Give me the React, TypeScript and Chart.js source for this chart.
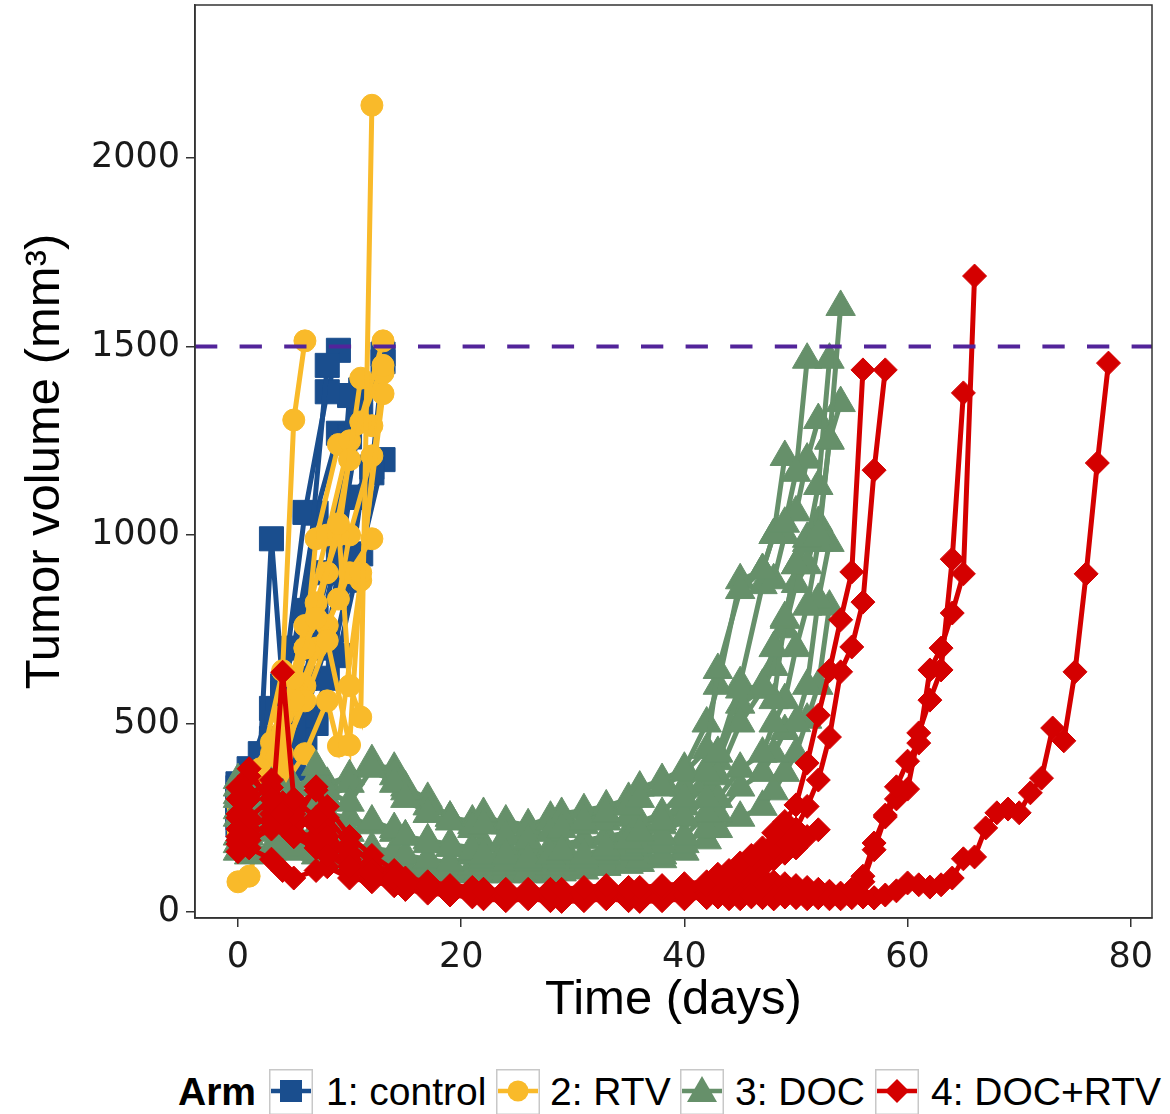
import React, { useEffect, useRef } from "react";
import { Chart, registerables } from "chart.js";

Chart.register(...registerables);

// ---------- data ----------
const ARM_LABELS = ["1: control", "2: RTV", "3: DOC", "4: DOC+RTV"];
const X_TICKS = [0, 20, 40, 60, 80];
const Y_TICKS = [0, 500, 1000, 1500, 2000];
const THRESHOLD = 1500;

// measurement days for the control and RTV arms (null = no measurement that day)
const EARLY_DAYS = [0, 1, 2, 3, 4, 5, 6, 7, 8, 9, 10, 11, 12, 13];

const CONTROL_MICE: (number | null)[][] = [
  [300, null, 420, 990, 600, null, 800, null, 1450],
  [250, 330, null, 420, 580, null, 1060, null, 1380, 1490],
  [330, 300, null, 460, null, 600, null, 780, null, 995, 1370],
  [290, null, 360, null, 450, null, 620, null, 900, null, 1260, 1385],
  [310, 280, null, 350, null, 480, null, 700, null, 960, null, 1320, null, 1480],
  [260, null, 330, null, 400, null, 520, null, 720, null, 1100, null, 1165],
  [340, 380, null, 540, null, 700, null, 1058, null, 1270],
  [280, null, 300, null, 380, null, 460, null, 620, null, 880, 1100, 1180, 1460],
  [230, 250, null, 300, null, 380, null, 500, null, 680, null, 950, null, 1200],
];

const RTV_MICE: (number | null)[][] = [
  [240, null, 380, null, 640, 1305, 1515],
  [200, 250, null, 400, null, 620, null, 780, null, 1030, 600, 517, 2140],
  [80, 95, null, 320, null, 560, null, 820, null, 1000, null, 1416],
  [260, null, 300, null, 480, null, 700, null, 900, null, 1200, null, null, 1515],
  [300, null, 350, null, 520, null, 760, null, 1000, null, 1250, 1300, null, 1450],
  [220, null, 280, null, 420, null, 560, null, 720, null, 443, 900, null, 1375],
  [280, null, null, 420, null, 550, null, 700, null, 830, 1000, null, 1210],
  [250, null, 320, null, 380, null, 600, null, 760, null, 900, null, 990],
  [180, null, 260, null, 330, null, 420, null, 560, 440, null, 880, null, 1430],
  [320, null, null, 450, null, null, 700, 990, null, 1240, null, null, 1290],
];

// measurement days for the DOC arm
const DOC_DAYS = [
  0, 1, 3, 4, 5, 7, 8, 10, 12, 14, 15, 17, 19, 21, 22, 24, 26, 28, 29, 31, 33, 35, 36,
  38, 40, 42, 43, 45, 47, 48, 49, 50, 51, 52, 53, 54,
];

const DOC_MICE: number[][] = [
  [310, 280, 260, 240, 220, 250, 230, 210, 240, 220, 200, 180, 170, 160, 150, 150, 140, 150, 160, 150, 170, 190, 210,
    240, 300, 370, 420, 590, 600, 700, 780, 920, 990, 1000, 1250, 1605],
  [350, 330, 310, 280, 300, 385, 320, 290, 380, 340, 300, 260, 240, 220, 230, 200, 190, 210, 220, 240, 260, 280, 300,
    330, 370, 430, 642, 854, 907, 1000, 1030, 1165, 1465],
  [250, 230, 210, 240, 260, 220, 200, 180, 170, 160, 150, 140, 130, 150, 140, 130, 130, 140, 150, 140, 160, 170, 180,
    200, 250, 300, 360, 500, 590, 562, 775, 920, 979, 1130, 1465],
  [180, 200, 220, 190, 170, 160, 180, 150, 140, 130, 120, 120, 110, 120, 130, 120, 110, 120, 130, 140, 150, 160, 170,
    180, 200, 260, 300, 380, 420, 500, 562, 700, 810, 979, 1252, 1350],
  [300, 320, 290, 300, 270, 280, 300, 340, 400, 360, 320, 280, 250, 230, 260, 230, 220, 240, 250, 230, 240, 250, 240,
    260, 330, 380, 422, 607, 867, 880, 1000, 1060, 1200, 1305],
  [330, 300, 340, 310, 330, 360, 340, 360, 390, 380, 330, 300, 250, 240, 230, 240, 230, 250, 260, 270, 280, 300, 330,
    350, 380, 500, 600, 880, 907, 1000, 1207],
  [200, 180, 160, 170, 190, 200, 170, 140, 120, 110, 120, 110, 100, 110, 100, 105, 110, 100, 110, 120, 120, 130, 140,
    150, 180, 220, 260, 330, 369, 420, 480, 501, 600, 828, 979],
  [270, 260, 240, 260, 280, 270, 260, 250, 230, 210, 200, 190, 180, 170, 180, 170, 160, 170, 180, 190, 200, 210, 220,
    230, 280, 340, 400, 550, 590, 650, 750, 870, 920, 1032],
  [160, 150, 170, 180, 160, 150, 140, 130, 120, 130, 110, 100, 110, 100, 105, 100, 100, 110, 105, 110, 120, 125, 130,
    140, 160, 190, 220, 250, 279, 320, 369, 420, 510, 600, 810],
];

// measurement days for the DOC+RTV arm
const COMBO_DAYS = [
  0, 1, 3, 4, 5, 7, 8, 10, 12, 14, 15, 17, 19, 21, 22, 24, 26, 28, 29, 31, 33, 35, 36, 38, 40, 42,
  43, 44, 45, 46, 47, 48, 49, 50, 51, 52, 53, 54, 55, 56, 57, 58, 59, 60, 61, 62, 63, 64, 65, 66,
  67, 68, 69, 70, 71, 72, 73, 74, 75, 76, 77, 78,
];

const COMBO_MICE: number[][] = [
  [220, 250, 300, 260, 200, 180, 150,
    120, 100, 90, 80, 70, 65, 60, 55, 60, 50, 55, 60, 65, 70, 60, 65, 70, 75, 80,
    100, 110, 130, 150, 170, 210, 240, 284, 395, 522, 640, 775, 902, 1438],
  [180, 200, 240, 636, 300, 250, 200,
    150, 110, 90, 70, 60, 50, 45, 50, 40, 45, 50, 40, 45, 50, 55, 50, 60, 65, 70,
    80, 90, 110, 130, 150, 170, 190, 220, 280, 350, 464, 637, 703, 822, 1172, 1438],
  [300, 380, 280, 240, 260, 230, 200,
    130, 100, 80, 70, 60, 55, 50, 45, 40, 45, 40, 35, 40, 45, 40, 35, 40, 45, 40,
    40, 35, 40, 45, 40, 35, 40, 45, 40, 38, 35, 40, 60, 95, 183, 257, 332, 400, 448, 642, 700, 793, 897, 1687],
  [250, 300, 330, 280, 230, 250, 220,
    140, 110, 90, 75, 65, 60, 55, 50, 50, 45, 50, 45, 50, 55, 50, 45, 50, 55, 50,
    50, 45, 50, 55, 50, 45, 50, 40, 45, 42, 40, 45, 55, 80, 165, 252, 300, 326, 475, 562, 642, 936, 1377],
  [200, 220, 260, 230, 210, 200, 180,
    110, 90, 70, 60, 55, 50, 45, 40, 45, 40, 40, 35, 40, 38, 35, 40, 42, 40, 38,
    40, 38, 35, 40, 38, 35, 40, 38, 35, 38, 40, 35, 38, 40, 37, 45, 56, 77, 72, 66, 72, 90, 141, 146,
    223, 263, 273, 263, 316, 355, 488, 454, 637, 897, 1191, 1456],
  [260, 310, 350, 290, 270, 323, 250,
    180, 130, 100, 80, 70, 60, 55, 60, 50, 55, 60, 55, 50, 60, 65, 60, 55, 60, 70,
    80, 90, 110, 130, 150, 160, 170, 190, 200, 218],
  [160, 190, 220, 250, 200, 170, 160,
    110, 90, 80, 70, 60, 50, 45, 40, 35, 40, 35, 30, 35, 40, 35, 30, 35, 40, 45,
    50, 60, 80, 100, 120, 140, 156, 170],
  [330, 360, 300, 270, 240, 332, 280,
    200, 150, 110, 90, 80, 70, 65, 60, 55, 60, 55, 50, 55, 60, 55, 50, 55, 60, 65,
    70, 75, 80, 85, 90, 80, 75, 70, 65, 60, 55, 50, 45, 40, 38],
  [190, 170, 140, 110, 90, 110, 120,
    90, 80, 70, 60, 50, 45, 40, 35, 30, 35, 30, 28, 30, 35, 30, 28, 30, 35, 40,
    45, 50, 55, 60, 65, 70],
];

// ---------- styles ----------
const ARM_STYLES = [
  { color: "#1A4E8E", pointStyle: "rect", radius: 17, order: 3 },
  { color: "#F9BA2A", pointStyle: "circle", radius: 11, order: 2 },
  { color: "#66906A", pointStyle: "triangle", radius: 17, order: 1 },
  { color: "#D40000", pointStyle: "rectRot", radius: 12, order: 0 },
];

function toPoints(days: number[], vols: (number | null)[]) {
  const pts: { x: number; y: number }[] = [];
  vols.forEach((v, i) => {
    if (v !== null && v !== undefined) pts.push({ x: days[i], y: v });
  });
  return pts;
}

function buildDatasets() {
  const groups: [number[], (number | null)[][]][] = [
    [EARLY_DAYS, CONTROL_MICE],
    [EARLY_DAYS, RTV_MICE],
    [DOC_DAYS, DOC_MICE],
    [COMBO_DAYS, COMBO_MICE],
  ];
  const ds: any[] = [];
  groups.forEach(([days, mice], armIdx) => {
    const st = ARM_STYLES[armIdx];
    mice.forEach((vols) => {
      ds.push({
        label: ARM_LABELS[armIdx],
        data: toPoints(days, vols),
        showLine: true,
        borderColor: st.color,
        backgroundColor: st.color,
        borderWidth: 5,
        pointStyle: st.pointStyle,
        pointRadius: st.radius,
        pointBorderWidth: 1,
        pointBorderColor: st.color,
        pointBackgroundColor: st.color,
        tension: 0,
        order: st.order,
      });
    });
  });
  return ds;
}

const overlayPlugin = {
  id: "overlay",
  afterDatasetsDraw(chart: any) {
    const { ctx, chartArea: a, scales } = chart;
    const y = scales.y.getPixelForValue(THRESHOLD);
    ctx.save();
    ctx.beginPath();
    ctx.rect(a.left, a.top, a.right - a.left, a.bottom - a.top);
    ctx.clip();
    ctx.setLineDash([22.3, 22.3]);
    ctx.strokeStyle = "#52249A";
    ctx.lineWidth = 4;
    ctx.beginPath();
    ctx.moveTo(a.left, y);
    ctx.lineTo(a.right, y);
    ctx.stroke();
    ctx.restore();
    ctx.save();
    ctx.strokeStyle = "#333333";
    ctx.lineWidth = 1.5;
    ctx.strokeRect(a.left, a.top, a.right - a.left, a.bottom - a.top);
    ctx.restore();
  },
};

function LegendKey({ idx }: { idx: number }) {
  const c = ARM_STYLES[idx].color;
  let marker: any = null;
  if (idx === 0) marker = <rect x={11} y={11} width={22} height={22} fill={c} />;
  if (idx === 1) marker = <circle cx={22} cy={22} r={10.5} fill={c} />;
  if (idx === 2) marker = <polygon points="22,7 37,33 7,33" fill={c} />;
  if (idx === 3) marker = <polygon points="22,10 34,22 22,34 10,22" fill={c} />;
  return (
    <svg width={44} height={46} style={{ display: "block" }}>
      <rect x={0.75} y={0.75} width={42.5} height={44.5} fill="#fff" stroke="#c8c8c8" strokeWidth={1.5} />
      <line x1={2} y1={22} x2={42} y2={22} stroke={c} strokeWidth={4.5} />
      {marker}
    </svg>
  );
}

export default function App() {
  const ref = useRef<HTMLCanvasElement>(null);
  useEffect(() => {
    if (!ref.current) return;
    const tickFont = { family: "DejaVu Sans", size: 35 };
    const titleFont = { family: "Liberation Sans", size: 49 };
    const chart = new Chart(ref.current, {
      type: "scatter",
      data: { datasets: buildDatasets() },
      options: {
        responsive: false,
        animation: false,
        devicePixelRatio: 1,
        layout: { autoPadding: false, padding: { left: 0, top: 5, right: 18, bottom: 0 } },
        plugins: { legend: { display: false }, tooltip: { enabled: false } },
        scales: {
          x: {
            type: "linear",
            min: -3.85,
            max: 81.9,
            afterBuildTicks: (s: any) => {
              s.ticks = X_TICKS.map((v) => ({ value: v }));
            },
            afterFit: (s: any) => {
              s.height = 122;
              s.paddingLeft = 0;
              s.paddingRight = 0;
            },
            ticks: { font: tickFont, color: "#1a1a1a", padding: 10, maxRotation: 0, autoSkip: false, callback: (v: any) => String(v) },
            grid: { display: true, drawOnChartArea: false, drawTicks: true, tickLength: 9, color: "#333", lineWidth: 1.5 },
            border: { display: true, color: "#333", width: 1.5 },
            title: { display: true, text: "Time (days)", font: titleFont, color: "#000", padding: { top: 0, bottom: 10 } },
          },
          y: {
            type: "linear",
            min: -16,
            max: 2406,
            afterBuildTicks: (s: any) => {
              s.ticks = Y_TICKS.map((v) => ({ value: v }));
            },
            afterFit: (s: any) => {
              s.width = 195;
              s.paddingTop = 0;
              s.paddingBottom = 0;
            },
            ticks: { font: tickFont, color: "#1a1a1a", padding: 6, autoSkip: false, callback: (v: any) => String(v) },
            grid: { display: true, drawOnChartArea: false, drawTicks: true, tickLength: 9, color: "#333", lineWidth: 1.5 },
            border: { display: true, color: "#333", width: 1.5 },
            title: { display: true, text: "Tumor volume (mm³)", font: titleFont, color: "#000", padding: { top: 16, bottom: 0 } },
          },
        },
      } as any,
      plugins: [overlayPlugin],
    });
    return () => chart.destroy();
  }, []);

  const legendFont = { fontFamily: "Liberation Sans", fontSize: 39, lineHeight: "40px", color: "#000", whiteSpace: "nowrap" as const };
  const keyLefts = [269, 496, 680, 875];
  const textLefts = [326, 550, 735, 931];

  return (
    <div style={{ position: "absolute", left: 0, top: 0, width: 1170, height: 1114, background: "#fff", overflow: "hidden" }}>
      <canvas ref={ref} width={1170} height={1040} style={{ position: "absolute", left: 0, top: 0, width: 1170, height: 1040 }} />
      <div style={{ ...legendFont, position: "absolute", left: 178, top: 1072, fontWeight: "bold" }}>Arm</div>
      {ARM_LABELS.map((lab, i) => (
        <React.Fragment key={lab}>
          <div style={{ position: "absolute", left: keyLefts[i], top: 1069 }}>
            <LegendKey idx={i} />
          </div>
          <div style={{ ...legendFont, position: "absolute", left: textLefts[i], top: 1072 }}>{lab}</div>
        </React.Fragment>
      ))}
    </div>
  );
}
